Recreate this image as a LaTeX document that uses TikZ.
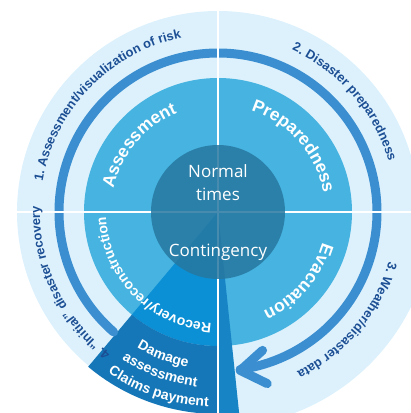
\documentclass[tikz,border=0pt]{standalone}
\usepackage{fontspec}
\setmainfont{Liberation Sans}
\newfontfamily\thinfont{Open Sans}
\usetikzlibrary{decorations.text}
\definecolor{outerC}{HTML}{DCF1FC}
\definecolor{arrowC}{HTML}{3B8ED0}
\definecolor{midC}{HTML}{46B3E1}
\definecolor{innerC}{HTML}{2778A0}
\definecolor{wedgeMidC}{HTML}{0B90D5}
\definecolor{wedgeOutC}{HTML}{1577B8}
\definecolor{stripC}{HTML}{1784C6}
\definecolor{labelC}{HTML}{1C4E94}
\newcommand\olfont{\fontsize{12.8}{13}\selectfont\bfseries\color{labelC}}
\newcommand\mlfont{\fontsize{17.5}{18}\selectfont\bfseries\color{white}}
\newcommand\rlfont{\fontsize{14}{15}\selectfont\bfseries\color{white}}
\newcommand\wlfont{\fontsize{14}{15}\selectfont\bfseries\color{white}}
\begin{document}
\begin{tikzpicture}[x=1pt,y=1pt,
  arcwidth/.style={line width=9pt, arrowC, line cap=round, line join=round},
  sepline/.style={white, line width=2.2pt},
  centertext/.style={text=white, font=\thinfont\fontsize{17}{18}\selectfont, anchor=base, inner sep=0pt}]
\useasboundingbox (0,0) rectangle (411,413);
\clip (0,0) rectangle (411,413);
\begin{scope}[shift={(218,201)}]
  % rings
  \fill[outerC] (0,0) circle[radius=201];
  \fill[outerC] (0,0) -- (0:215) arc[start angle=0, end angle=-90, radius=215] -- cycle;
  \fill[midC] (0,0) circle[radius=134];
  % contingency wedge
  \fill[wedgeMidC] (0,0) -- (230:134) arc[start angle=230, end angle=270, radius=134] -- cycle;
  \fill[wedgeOutC] (230:134) -- (230:202) arc[start angle=230, end angle=270, radius=202] -- (270:134) arc[start angle=270, end angle=230, radius=134] -- cycle;
  \fill[stripC] (0,0) -- (270:202) arc[start angle=270, end angle=276, radius=202] -- cycle;
  % cycle arrow
  \coordinate (arrowstart) at (229:159);
  \coordinate (tip) at (-82:160);
  \draw[arcwidth] (arrowstart) arc[start angle=229, end angle=-82, radius=159];
  \path (tip) ++(42:30) coordinate (armA);
  \path (tip) ++(-26:30) coordinate (armB);
  \draw[arcwidth] (armA) -- (tip) -- (armB);
  % separator lines
  \draw[sepline] (0,215) -- (0,-215);
  \draw[sepline] (-220,0) -- (200,0);
  % inner circle
  \fill[innerC, opacity=0.85] (0,0) circle[radius=67];
  \node[centertext] (normal) at (0,34) {Normal};
  \node[centertext] (times) at (0,11) {times};
  \node[centertext] (contingency) at (0,-45) {Contingency};
  % middle ring labels
  \path[decorate, decoration={text along path, text align=center, text={|\mlfont|Assessment}}]
    (180:107) arc[start angle=180, end angle=100, radius=107];
  \path[decorate, decoration={text along path, text align=center, text={|\mlfont|Preparedness}}]
    (81:107) arc[start angle=81, end angle=1, radius=107];
  \path[decorate, decoration={text along path, text align=center, text={|\mlfont|Evacuation}}]
    (-1:109) arc[start angle=-1, end angle=-81, radius=109];
  \path[decorate, decoration={text along path, text align=center, text={|\rlfont|Recovery/reconstruction}}]
    (274:112) arc[start angle=274, end angle=175, radius=112];
  % outer labels
  \path[decorate, decoration={text along path, text align=center, text={|\olfont|1. Assessment/visualization of risk}}]
    (176:178) arc[start angle=176, end angle=96, radius=178];
  \path[decorate, decoration={text along path, text align=center, text={|\olfont|2. Disaster preparedness}}]
    (81:178) arc[start angle=81, end angle=1, radius=178];
  \path[decorate, decoration={text along path, text align=center, text={|\olfont|3. Weather/disaster data}}]
    (0:178) arc[start angle=0, end angle=-80, radius=178];
  \path[decorate, decoration={text along path, text align=center, text={|\olfont|4. “Initial” disaster recovery}}]
    (245:178) arc[start angle=245, end angle=166, radius=178];
  % wedge labels
  \path[decorate, decoration={text along path, text align=center, text={|\wlfont|Damage}}]
    (229:158) arc[start angle=229, end angle=269, radius=158];
  \path[decorate, decoration={text along path, text align=center, text={|\wlfont|assessment}}]
    (230:176) arc[start angle=230, end angle=270, radius=176];
  \path[decorate, decoration={text along path, text align=center, text={|\wlfont|Claims payment}}]
    (231.4:195) arc[start angle=231.4, end angle=271.4, radius=195];
\end{scope}
\end{tikzpicture}
\end{document}
